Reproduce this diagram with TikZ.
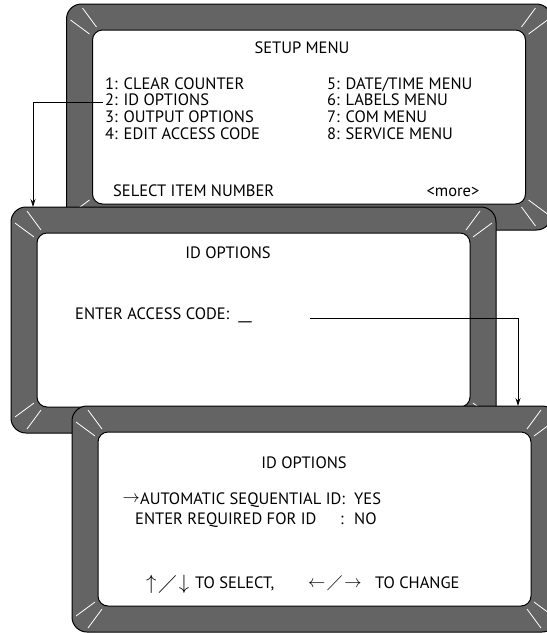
\documentclass[tikz,border=0pt]{standalone}
\usepackage{amsmath,amssymb}
\usepackage{fontspec}
\setmainfont{PT Sans}
\definecolor{bezel}{RGB}{99, 100, 99}
\usetikzlibrary{arrows.meta,positioning}

\begin{document}
\begin{tikzpicture}[
    x=1pt, y=-1pt,
    screen/.style={rectangle, draw, line width=1pt, fill=bezel, rounded corners=15pt, inner sep=0pt,
        minimum width=485pt, minimum height=226pt,
        path picture={
            \foreach \c/\sx/\sy in {north west/1/1, north east/-1/1, south west/1/-1, south east/-1/-1}{
                \draw[glint] ([shift={(16*\sx,4*\sy)}]path picture bounding box.\c) -- ([shift={(30*\sx,23*\sy)}]path picture bounding box.\c);
                \draw[glint] ([shift={(4*\sx,16*\sy)}]path picture bounding box.\c) -- ([shift={(23*\sx,30*\sy)}]path picture bounding box.\c);
            }
        }},
    display/.style={rectangle, draw, line width=1pt, fill=white, rounded corners=10pt, inner sep=0pt,
        minimum width=433pt, minimum height=174pt},
    glint/.style={draw=white, line width=0.8pt},
    heading/.style={inner sep=0pt, font=\fontsize{16.5}{19}\selectfont},
    item/.style={anchor=west, inner sep=0pt, text height=11.5pt, text depth=3.5pt, font=\fontsize{16.5}{19}\selectfont},
    keys/.style={anchor=west, inner sep=0pt, font=\fontsize{20}{20}\selectfont},
    arrow/.style={-{Stealth[length=8pt,width=5pt]}, line width=0.8pt}
]
\path[use as bounding box, clip] (0,0) rectangle (547,633);

% setup menu
\node[screen] (setup) at (309,117) {};
\node[display] (setup_in) at (setup.center) {};
\node[heading] (setup_t) at (302,48) {SETUP MENU};
\node[item] (m1) at (105,85) {1: CLEAR COUNTER};
\node[item, below=1.5pt of m1.south west, anchor=north west] (m2) {2: ID OPTIONS};
\node[item, below=1.5pt of m2.south west, anchor=north west] (m3) {3: OUTPUT OPTIONS};
\node[item, below=1.5pt of m3.south west, anchor=north west] (m4) {4: EDIT ACCESS CODE};
\node[item] (m5) at (327,85) {5: DATE/TIME MENU};
\node[item, below=1.5pt of m5.south west, anchor=north west] (m6) {6: LABELS MENU};
\node[item, below=1.5pt of m6.south west, anchor=north west] (m7) {7: COM MENU};
\node[item, below=1.5pt of m7.south west, anchor=north west] (m8) {8: SERVICE MENU};
\node[item] (setup_sel) at (113,192) {SELECT ITEM NUMBER};
\node[heading] (setup_more) at (453,192) {<more>};

% access code
\node[screen] (code) at (253.5,320) {};
\node[display] (code_in) at (code.center) {};
\node[heading] (code_t) at (228,253) {ID OPTIONS};
\node[item] (code_ask) at (75,315) {ENTER ACCESS CODE:\hspace{9pt}\_\_};
\coordinate (code_out) at (310,318);
\coordinate (drop1) at (33,207);

% id options
\node[screen] (idopt) at (314.5,519) {};
\node[display] (idopt_in) at (idopt.center) {};
\node[heading] (idopt_t) at (304,463) {ID OPTIONS};
\node[keys, anchor=east, font=\fontsize{19}{19}\selectfont] (ptr) at (140,499) {$\rightarrow$};
\node[item] (auto) at (140,500) {AUTOMATIC SEQUENTIAL ID:};
\node[item] (auto_v) at (354,500) {YES};
\node[item] (req) at (135,520) {ENTER REQUIRED FOR ID};
\node[item] (req_c) at (340,520) {:};
\node[item] (req_v) at (354,520) {NO};
\node[keys] (sel_keys) at (146,584) {$\uparrow\!\diagup\!\downarrow$};
\node[item] (sel_txt) at (195,584) {TO SELECT,};
\node[keys, font=\fontsize{17}{17}\selectfont] (chg_keys) at (308,583) {$\leftarrow\!\diagup\!\rightarrow$};
\node[item] (chg_txt) at (375,584) {TO CHANGE};
\coordinate (drop2) at (518,406);

% connectors
\draw[arrow, shorten <=2pt] (m2.west) -| (drop1);
\draw[arrow] (code_out) -| (drop2);

\end{tikzpicture}
\end{document}
